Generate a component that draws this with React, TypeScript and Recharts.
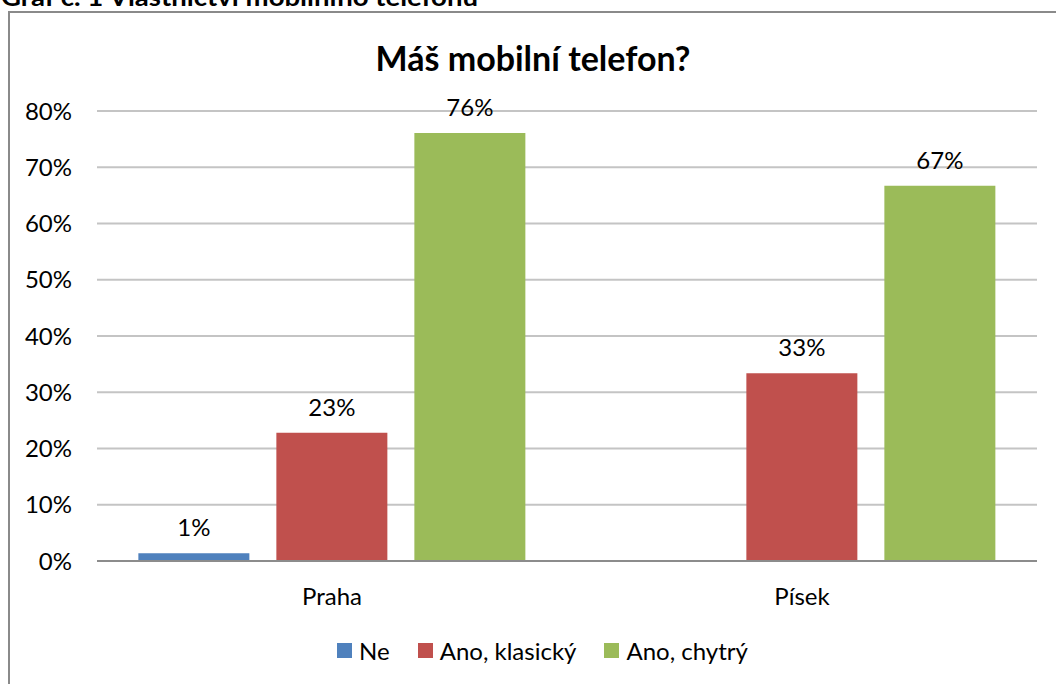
import React from "react";
import { BarChart, Bar, XAxis, YAxis, CartesianGrid, LabelList, Legend } from "recharts";

const categories = ["Praha", "Písek"];
const seriesNe = [0.014, 0];
const seriesKlasicky = [0.228, 0.334];
const seriesChytry = [0.761, 0.667];
const yTicks = [0, 0.1, 0.2, 0.3, 0.4, 0.5, 0.6, 0.7, 0.8];
const seriesNames = ["Ne", "Ano, klasický", "Ano, chytrý"];
const seriesColors = ["#4F81BD", "#C0504D", "#9BBB59"];

const data = categories.map((c, i) => ({
  cat: c,
  ne: seriesNe[i],
  klasicky: seriesKlasicky[i],
  chytry: seriesChytry[i],
}));

const FONT = "Lato, 'Open Sans', sans-serif";
const FS = 24;
const pct = (v: any) => `${Math.round(Number(v) * 100)}%`;

const LegendContent = () => (
  <div style={{ display: "flex", justifyContent: "center", fontFamily: FONT, fontSize: FS, color: "#000", paddingTop: 12, paddingLeft: 38 }}>
    {seriesNames.map((n, i) => (
      <div key={n} style={{ display: "flex", alignItems: "center", marginRight: i < 2 ? 28 : 0 }}>
        <span style={{ width: 15, height: 15, background: seriesColors[i], display: "inline-block", marginRight: 7 }} />
        <span>{n}</span>
      </div>
    ))}
  </div>
);

export default function App() {
  return (
    <div style={{ position: "fixed", left: 0, top: 0, width: 1056, height: 684, background: "#fff", overflow: "hidden" }}>
      <div
        style={{
          position: "absolute",
          left: 8,
          top: 11,
          width: 1048,
          height: 676,
          borderLeft: "2px solid #8a8a8a",
          borderTop: "2px solid #8a8a8a",
          background: "#fff",
          boxSizing: "border-box",
        }}
      />
      <svg width={520} height={9} style={{ position: "absolute", left: 0, top: 0, display: "block" }}>
        <text
          x={1}
          y={5.5}
          textLength={477}
          lengthAdjust="spacingAndGlyphs"
          fill="#000"
          fontFamily={FONT}
          fontWeight={700}
          fontSize={24}
        >
          Graf č. 1 Vlastnictví mobilního telefonu
        </text>
      </svg>
      <div
        style={{
          position: "absolute",
          left: 10,
          top: 13,
          width: 1046,
          height: 671,
        }}
      >
        <div
          style={{
            position: "absolute",
            left: 0,
            top: 24,
            width: 1046,
            textAlign: "center",
            fontFamily: FONT,
            fontWeight: 700,
            fontSize: 34,
            color: "#000",
            zIndex: 2,
          }}
        >
          Máš mobilní telefon?
        </div>
        <BarChart
          width={1046}
          height={671}
          data={data}
          margin={{ top: 98, right: 19, left: 0, bottom: 0 }}
          barCategoryGap="8.8%"
          barGap={27}
        >
          <CartesianGrid vertical={false} stroke="#c4c4c4" strokeWidth={2} />
          <XAxis
            dataKey="cat"
            tickLine={false}
            tickSize={0}
            tickMargin={27}
            height={63}
            axisLine={{ stroke: "#8c8c8c", strokeWidth: 2 }}
            tick={{ fontFamily: FONT, fontSize: FS, fill: "#000" }}
          />
          <YAxis
            width={87}
            domain={[0, 0.8]}
            ticks={yTicks}
            tickFormatter={pct}
            axisLine={false}
            tickLine={false}
            tickSize={0}
            tickMargin={25}
            interval={0}
            tick={{ fontFamily: FONT, fontSize: FS, fill: "#000" }}
          />
          <Legend verticalAlign="bottom" height={60} content={<LegendContent />} />
          <Bar dataKey="ne" name={seriesNames[0]} fill={seriesColors[0]} isAnimationActive={false}>
            <LabelList dataKey="ne" position="top" offset={17} formatter={pct} style={{ fontFamily: FONT, fontSize: FS, fill: "#000" }} />
          </Bar>
          <Bar dataKey="klasicky" name={seriesNames[1]} fill={seriesColors[1]} isAnimationActive={false}>
            <LabelList dataKey="klasicky" position="top" offset={17} formatter={pct} style={{ fontFamily: FONT, fontSize: FS, fill: "#000" }} />
          </Bar>
          <Bar dataKey="chytry" name={seriesNames[2]} fill={seriesColors[2]} isAnimationActive={false}>
            <LabelList dataKey="chytry" position="top" offset={17} formatter={pct} style={{ fontFamily: FONT, fontSize: FS, fill: "#000" }} />
          </Bar>
        </BarChart>
      </div>
    </div>
  );
}
